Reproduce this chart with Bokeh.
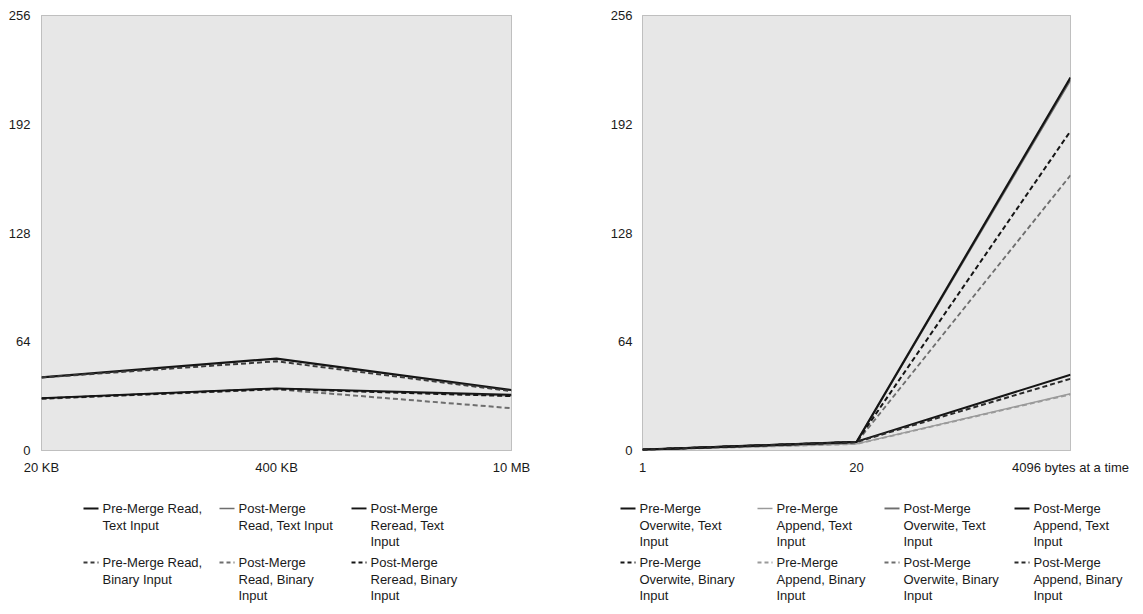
from bokeh.plotting import figure
from bokeh.models import Range1d, FixedTicker
from bokeh.layouts import column, row
from bokeh.embed import file_html
from bokeh.resources import INLINE
from bokeh.core.properties import value

# ---------------- data ----------------
left_ticks = ["20 KB", "400 KB", "10 MB"]
pre_read_text = [43.0, 54.1, 35.6]
post_read_text = [30.6, 36.5, 32.2]
post_reread_text = [30.8, 36.6, 32.8]
pre_read_binary = [43.0, 52.5, 34.9]
post_read_binary = [30.4, 36.0, 24.9]
post_reread_binary = [30.6, 36.2, 32.0]

right_ticks = ["1", "20", "4096 bytes at a time"]
pre_ow_text = [0.5, 5.0, 219.5]
pre_ap_text = [0.4, 3.9, 33.4]
post_ow_text = [0.5, 4.8, 218.0]
post_ap_text = [0.5, 5.2, 44.6]
pre_ow_bin = [0.5, 5.0, 188.0]
pre_ap_bin = [0.4, 3.8, 33.0]
post_ow_bin = [0.5, 4.6, 162.0]
post_ap_bin = [0.5, 5.0, 42.2]

y_ticks = [0, 64, 128, 192, 256]

left_labels = ["Pre-Merge Read,\nText Input", "Post-Merge\nRead, Text Input", "Post-Merge\nReread, Text\nInput",
               "Pre-Merge Read,\nBinary Input", "Post-Merge\nRead, Binary\nInput", "Post-Merge\nReread, Binary\nInput"]
right_labels = ["Pre-Merge\nOverwite, Text\nInput", "Pre-Merge\nAppend, Text\nInput",
                "Post-Merge\nOverwite, Text\nInput", "Post-Merge\nAppend, Text\nInput",
                "Pre-Merge\nOverwite, Binary\nInput", "Pre-Merge\nAppend, Binary\nInput",
                "Post-Merge\nOverwite, Binary\nInput", "Post-Merge\nAppend, Binary\nInput"]

# ---------------- styles ----------------
FONT = "Liberation Sans"
TXT = "#1a1a1a"
BLACK = "#151515"
GRAY = "#6e6e6e"
LGRAY = "#9a9a9a"
DASH = "5 3"

left_series = [pre_read_text, post_read_text, post_reread_text,
               pre_read_binary, post_read_binary, post_reread_binary]
left_styles = [(BLACK, 2.2, "solid"), (GRAY, 1.6, "solid"), (BLACK, 1.8, "solid"),
               ("#3a3a3a", 2.0, DASH), (GRAY, 2.0, DASH), (BLACK, 2.0, DASH)]
right_series = [pre_ow_text, pre_ap_text, post_ow_text, post_ap_text,
                pre_ow_bin, pre_ap_bin, post_ow_bin, post_ap_bin]
right_styles = [(BLACK, 2.2, "solid"), (LGRAY, 1.4, "solid"), (GRAY, 1.8, "solid"), (BLACK, 2.0, "solid"),
                (BLACK, 2.0, DASH), (LGRAY, 1.8, DASH), (GRAY, 1.8, DASH), ("#2a2a2a", 2.0, DASH)]

CHART_H = 498


def make_chart(width, border_left, border_right, ticks, series, styles, standoff):
    p = figure(width=width, height=CHART_H, output_backend="svg", toolbar_location=None,
               x_range=Range1d(0, len(ticks) - 1), y_range=Range1d(0, 256),
               min_border_left=border_left, min_border_right=border_right,
               min_border_top=15, min_border_bottom=CHART_H - 15 - 435, tools="")
    p.background_fill_color = "#e7e7e7"
    p.border_fill_color = "white"
    p.outline_line_color = "#8a8a8a"
    p.outline_line_dash = "1 1"
    p.outline_line_width = 1
    p.xgrid.visible = False
    p.ygrid.visible = False
    for ax in (p.xaxis[0], p.yaxis[0]):
        ax.axis_line_color = None
        ax.major_tick_line_color = None
        ax.minor_tick_line_color = None
        ax.major_tick_out = 0
        ax.major_tick_in = 0
        ax.minor_tick_out = 0
        ax.major_label_text_font = FONT
        ax.major_label_text_font_size = "13px"
        ax.major_label_text_color = TXT
    p.yaxis.ticker = FixedTicker(ticks=y_ticks)
    p.yaxis.major_label_standoff = standoff
    p.xaxis.ticker = FixedTicker(ticks=list(range(len(ticks))))
    p.xaxis.major_label_overrides = {i: t for i, t in enumerate(ticks)}
    p.xaxis.major_label_standoff = 9
    xs = list(range(len(ticks)))
    order = sorted(range(len(series)), key=lambda i: 0 if styles[i][0] in (GRAY, LGRAY) else 1)
    for i in order:
        c, w, d = styles[i]
        p.line(xs, series[i], line_color=c, line_width=w, line_dash=d)
    return p


def make_legend(width, height, labels, styles, col_x, ncols, row_y, line_len, line_h):
    p = figure(width=width, height=height, output_backend="svg", toolbar_location=None,
               x_range=Range1d(0, width), y_range=Range1d(height, 0),
               min_border=0, tools="")
    p.axis.visible = False
    p.grid.visible = False
    p.outline_line_color = None
    p.background_fill_color = "white"
    p.border_fill_color = "white"
    for k, lab in enumerate(labels):
        r, c = divmod(k, ncols)
        x0 = col_x[c]
        y0 = row_y[r]
        col, w, d = styles[k]
        if d == "solid":
            p.segment(x0=[x0], y0=[y0], x1=[x0 + line_len], y1=[y0],
                      line_color=col, line_width=w)
        else:
            p.segment(x0=[x0], y0=[y0], x1=[x0 + line_len], y1=[y0],
                      line_color=col, line_width=1.8, line_dash="4 3")
        lines = lab.split("\n")
        p.text(x=[x0 + line_len + 4] * len(lines),
               y=[y0 + j * line_h for j in range(len(lines))],
               text=lines, text_font=value(FONT), text_font_size="13px",
               text_color=TXT, text_baseline="middle", text_align="left")
    return p


left = make_chart(568, 41, 57, left_ticks, left_series, left_styles, 11)
right = make_chart(567, 74, 65, right_ticks, right_series, right_styles, 10)

leg_left = make_legend(568, 112, left_labels, left_styles,
                       [83, 219, 351], 3, [10, 64], 15, 16.5)
leg_right = make_legend(567, 112, right_labels, right_styles,
                        [52, 189, 316, 446], 4, [10, 64], 15, 16.5)

layout = column(row(left, right), row(leg_left, leg_right))
open("out.html", "w").write(file_html(layout, INLINE))
